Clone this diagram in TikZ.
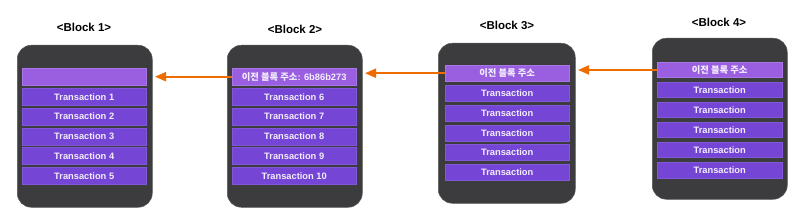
\documentclass[tikz,border=0pt]{standalone}
\usepackage{fontspec}
\setmainfont{Liberation Sans}
\newfontfamily\kr{Noto Sans CJK KR}
\usetikzlibrary{arrows.meta}
\definecolor{outerc}{HTML}{3C3C3E}
\definecolor{headc}{HTML}{9A5FE0}
\definecolor{rowc}{HTML}{7545D6}
\definecolor{rowedge}{HTML}{8058D8}
\definecolor{arrc}{HTML}{EE6C00}
\definecolor{txtc}{HTML}{F2EEFB}
\tikzset{
  outerbox/.style={fill=outerc, draw=outerc!85!white, line width=0.5pt, rounded corners=14pt, anchor=north west, inner sep=0pt},
  headbox/.style={fill=headc, draw=headc!85!white, line width=0.4pt, anchor=north west, inner sep=0pt, text=txtc, font=\fontsize{9.3}{10}\selectfont\bfseries},
  rowbox/.style={fill=rowc, draw=rowedge, line width=0.4pt, anchor=north west, inner sep=0pt, text=txtc, font=\fontsize{9.3}{10}\selectfont\bfseries},
  title/.style={font=\fontsize{11.5}{12}\selectfont\bfseries, text=black},
  arr/.style={draw=arrc, line width=2pt, -{Triangle[length=11pt,width=9pt]}, shorten >=2.5pt},
}
\begin{document}
\begin{tikzpicture}[x=1pt,y=-1pt]
\useasboundingbox (0,0) rectangle (799,216);
% Block 1
\node[title] (t1) at (84,27) {<Block 1>};
\node[outerbox, minimum width=135pt, minimum height=162pt] (b1) at (17,45) {};
\node[headbox, minimum width=124pt, minimum height=17pt] (h1) at (22,68) {};
\foreach \i [count=\k from 0] in {1,...,5}{
  \node[rowbox, minimum width=124pt, minimum height=17pt] (r1\i) at (22,88+19.8*\k) {Transaction \i};
}
% Block 2
\node[title] (t2) at (295,29) {<Block 2>};
\node[outerbox, minimum width=135pt, minimum height=162pt] (b2) at (227,45) {};
\node[headbox, minimum width=124pt, minimum height=17pt] (h2) at (232,68) {{\kr\bfseries 이전 블록 주소}: 6b86b273};
\foreach \i [count=\k from 0] in {6,...,10}{
  \node[rowbox, minimum width=124pt, minimum height=17pt] (r2\k) at (232,88+19.8*\k) {Transaction \i};
}
% Block 3
\node[title] (t3) at (507,25) {<Block 3>};
\node[outerbox, minimum width=137pt, minimum height=160pt] (b3) at (438,43) {};
\node[headbox, minimum width=124pt, minimum height=16pt] (h3) at (445,65) {{\kr\bfseries 이전 블록 주소}};
\foreach \k in {0,...,4}{
  \node[rowbox, minimum width=124pt, minimum height=16pt] (r3\k) at (445,85+19.8*\k) {Transaction};
}
% Block 4
\node[title] (t4) at (719,22) {<Block 4>};
\node[outerbox, minimum width=135pt, minimum height=161pt] (b4) at (652,38) {};
\node[headbox, minimum width=125pt, minimum height=15.5pt] (h4) at (657,62) {{\kr\bfseries 이전 블록 주소}};
\foreach \k in {0,...,4}{
  \node[rowbox, minimum width=125pt, minimum height=15.5pt] (r4\k) at (657,82+20*\k) {Transaction};
}
% arrows
\draw[arr] (h2.west) -- (b1.east |- h2.west);
\draw[arr] (h3.west) -- (b2.east |- h3.west);
\draw[arr] (h4.west) -- (b3.east |- h4.west);
\end{tikzpicture}
\end{document}
